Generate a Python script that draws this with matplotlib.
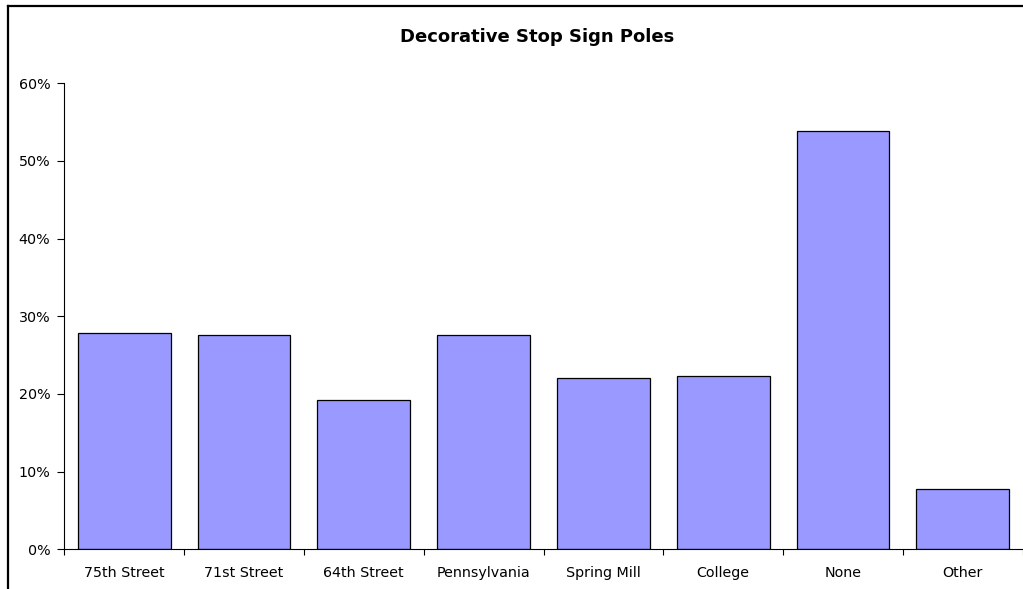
import numpy as np
import matplotlib
matplotlib.use('Agg')
import matplotlib.pyplot as plt
from matplotlib.ticker import PercentFormatter, FixedLocator

# data (percent of respondents)
streets = ['75th Street', '71st Street', '64th Street', 'Pennsylvania',
           'Spring Mill', 'College', 'None', 'Other']
shares = [27.9, 27.6, 19.2, 27.6, 22.1, 22.35, 53.8, 7.75]

W, H = 1023, 589
fig = plt.figure(figsize=(W / 100, H / 100), dpi=100)

# axes placed in pixel terms of the original
left, right, top, bottom = 64.3, 1022.7, 83.3, 549.3
ax = fig.add_axes([left / W, 1 - bottom / H, (right - left) / W, (bottom - top) / H])

x = np.arange(len(streets))
ax.bar(x, shares, width=0.774, color='#9999ff', edgecolor='black', linewidth=0.9)

ax.set_xlim(-0.5, len(streets) - 0.5)
ax.set_ylim(0, 60)
ax.yaxis.set_major_formatter(PercentFormatter(decimals=0))
ax.set_yticks(np.arange(0, 61, 10))
ax.set_xticks(x)
ax.set_xticklabels(streets)
ax.xaxis.set_minor_locator(FixedLocator(np.arange(-0.5, len(streets), 1)))
ax.tick_params(axis='x', which='major', length=0, pad=12, labelsize=10.3)
ax.tick_params(axis='x', which='minor', length=4, direction='out', width=0.8)
ax.tick_params(axis='y', length=5, direction='out', width=0.8, labelsize=10.3, pad=5)

for s in ['top', 'right']:
    ax.spines[s].set_visible(False)
ax.spines['left'].set_linewidth(0.8)
ax.spines['bottom'].set_linewidth(0.8)

fig.text(537 / W, 1 - 37 / H, 'Decorative Stop Sign Poles', ha='center', va='center',
         fontsize=13, fontweight='bold')

# outer chart frame (only the left and top edges are visible)
fig.add_artist(plt.Line2D([7.5 / W, 7.5 / W], [0, 1 - 5.5 / H], color='black', linewidth=1.6,
                          transform=fig.transFigure))
fig.add_artist(plt.Line2D([7.5 / W, 1], [1 - 5.5 / H, 1 - 5.5 / H], color='black', linewidth=1.6,
                          transform=fig.transFigure))

fig.savefig('out.png', dpi=100)
